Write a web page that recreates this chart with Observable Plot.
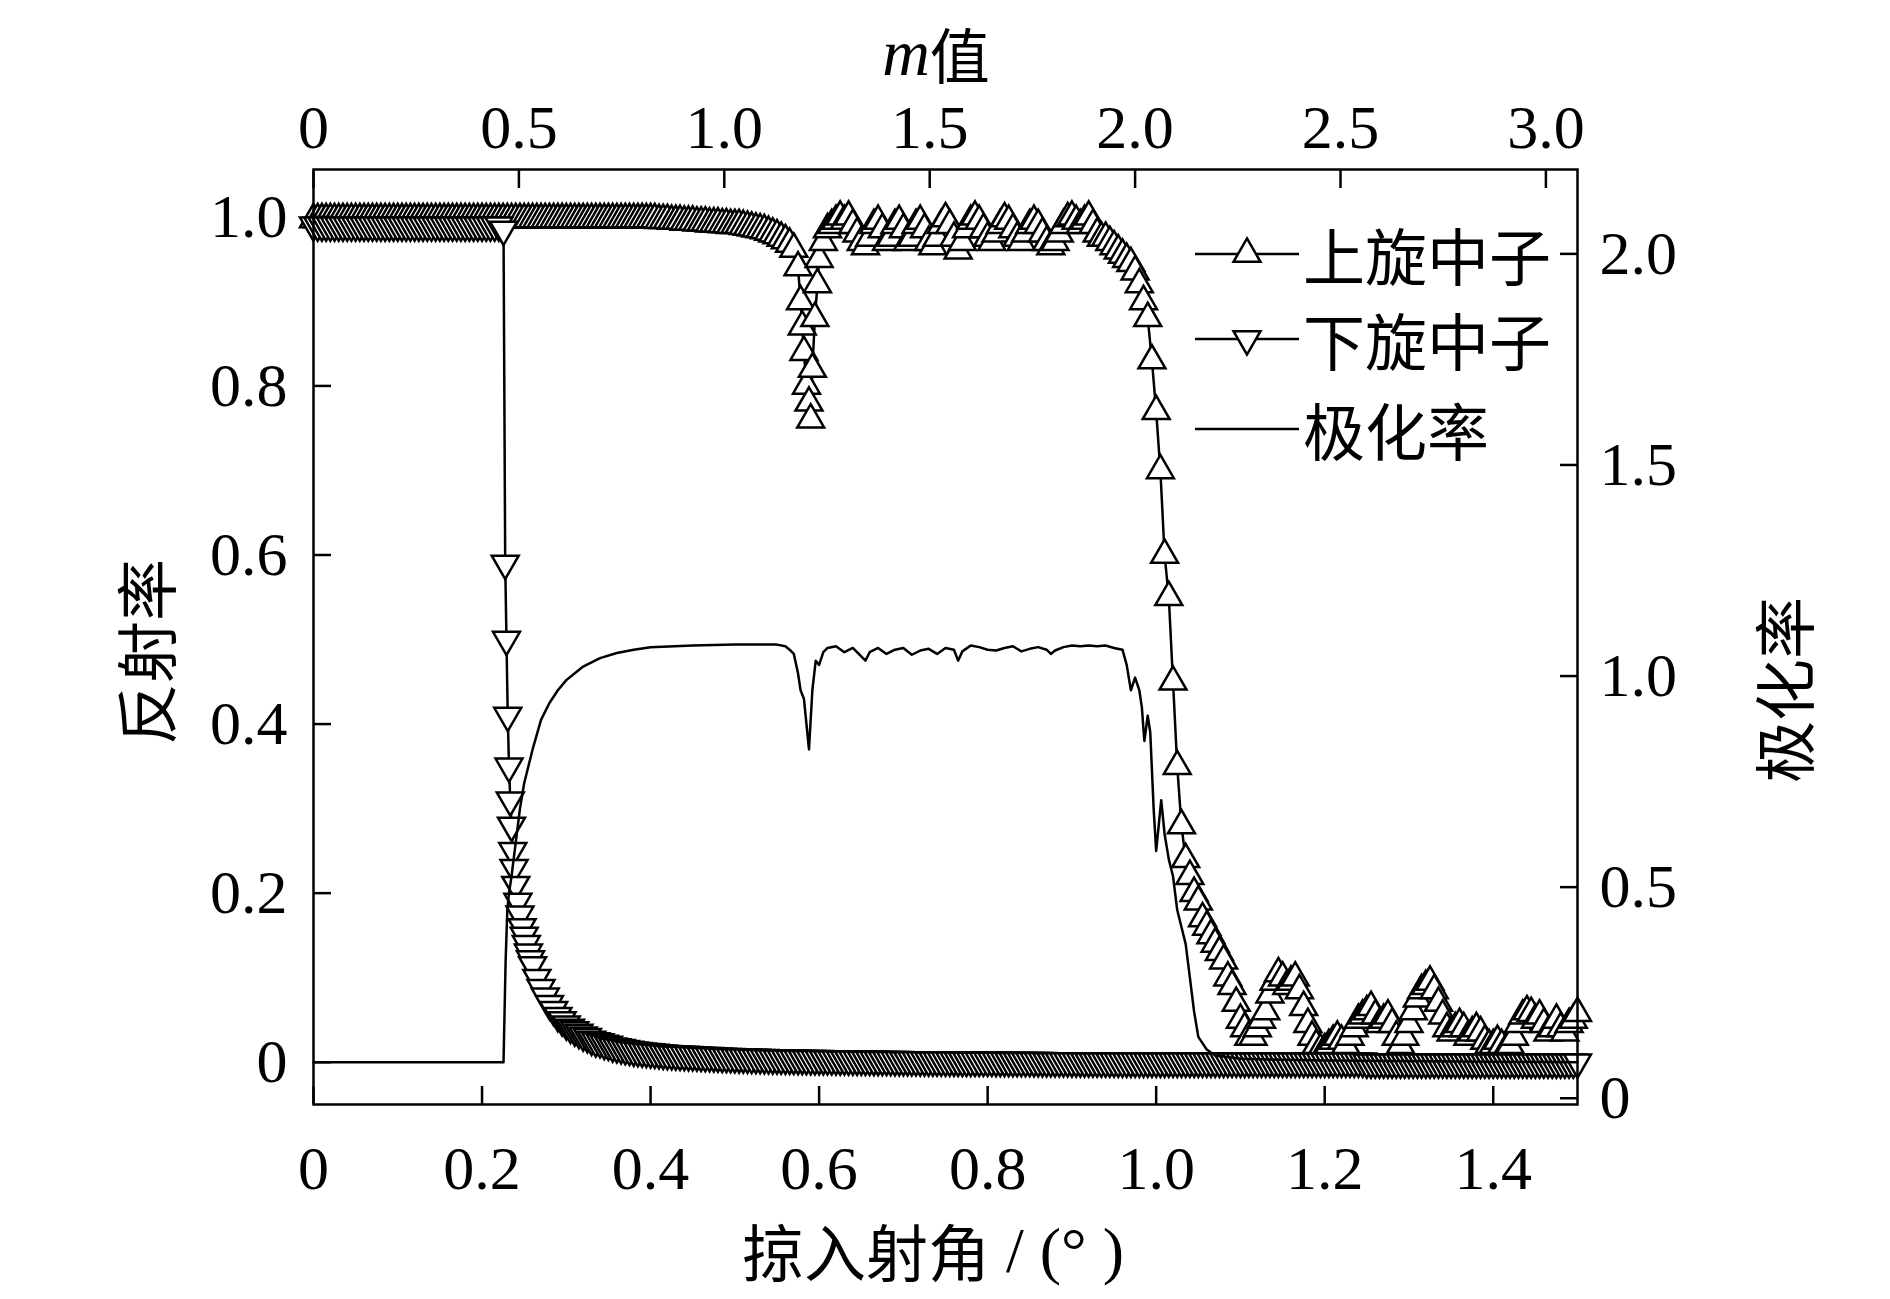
<!DOCTYPE html>
<html><head><meta charset="utf-8">
<script src="https://cdn.jsdelivr.net/npm/d3@7"></script>
<script src="https://cdn.jsdelivr.net/npm/@observablehq/plot@0.6"></script>
<style>body{margin:0;background:#fff}</style>
</head><body><div id="chart"></div>
<script>
// Up-spin reflectivity [angle (deg), R]
const upSpin = [
[0,.997],[.005,.997],[.01,.997],[.015,.997],[.02,.997],[.025,.997],[.03,.997],[.035,.997],[.04,.997],[.045,.997],
[.05,.997],[.055,.997],[.06,.997],[.065,.997],[.07,.997],[.075,.997],[.08,.997],[.085,.997],[.09,.997],[.095,.997],
[.1,.997],[.105,.997],[.11,.997],[.115,.997],[.12,.997],[.125,.997],[.13,.997],[.135,.997],[.14,.997],[.145,.997],
[.15,.997],[.155,.997],[.16,.997],[.165,.997],[.17,.997],[.175,.997],[.18,.997],[.185,.997],[.19,.997],[.195,.997],
[.2,.997],[.205,.997],[.21,.997],[.215,.997],[.22,.997],[.225,.997],[.23,.997],[.235,.997],[.24,.997],[.245,.997],
[.25,.997],[.255,.997],[.26,.997],[.265,.997],[.27,.997],[.275,.997],[.28,.997],[.285,.997],[.29,.997],[.295,.997],
[.3,.997],[.305,.997],[.31,.997],[.315,.997],[.32,.997],[.325,.997],[.33,.997],[.335,.997],[.34,.997],[.345,.997],
[.35,.997],[.355,.997],[.36,.997],[.365,.997],[.37,.997],[.375,.997],[.38,.997],[.385,.997],[.39,.997],[.395,.997],
[.4,.997],[.405,.997],[.41,.996],[.415,.996],[.42,.996],[.425,.995],[.43,.995],[.435,.995],[.44,.994],[.445,.994],
[.45,.994],[.455,.993],[.46,.993],[.465,.993],[.47,.992],[.475,.992],[.48,.992],[.485,.991],[.49,.991],[.495,.99],
[.5,.99],[.505,.99],[.51,.989],[.515,.988],[.52,.987],[.525,.986],[.53,.985],[.535,.984],[.54,.982],[.545,.98],
[.55,.978],[.555,.975],[.56,.972],[.565,.968],[.57,.962],[.575,.94],[.578,.9],[.58,.87],[.582,.84],[.585,.8],
[.588,.78],[.59,.76],[.592,.82],[.595,.88],[.598,.92],[.6,.95],[.605,.97],[.61,.985],[.615,.99],[.62,.995],
[.625,1],[.63,.995],[.635,1],[.64,.99],[.645,.98],[.65,.97],[.655,.965],[.66,.975],[.665,.99],[.67,.995],
[.675,.985],[.68,.97],[.685,.975],[.69,.99],[.695,.995],[.7,.985],[.705,.97],[.71,.975],[.715,.99],[.72,.995],
[.725,.985],[.73,.97],[.735,.965],[.74,.975],[.745,.99],[.75,.998],[.755,.99],[.76,.975],[.765,.96],[.77,.97],
[.775,.985],[.78,.995],[.785,1],[.79,.995],[.795,.985],[.8,.975],[.805,.97],[.81,.98],[.815,.99],[.82,.998],
[.825,.995],[.83,.985],[.835,.975],[.84,.97],[.845,.98],[.85,.99],[.855,.995],[.86,.99],[.865,.98],[.87,.97],
[.875,.965],[.88,.97],[.885,.98],[.89,.99],[.895,.998],[.9,1],[.905,.995],[.91,.99],[.915,.995],[.92,1],
[.925,.99],[.93,.98],[.935,.975],[.94,.975],[.945,.97],[.95,.965],[.955,.96],[.96,.955],[.965,.95],[.97,.945],
[.975,.935],[.98,.92],[.985,.9],[.99,.88],[.995,.83],[1,.77],[1.005,.7],[1.01,.6],[1.015,.55],[1.02,.45],
[1.025,.35],[1.03,.28],[1.035,.24],[1.04,.22],[1.045,.2],[1.05,.19],[1.055,.17],[1.06,.16],[1.065,.15],[1.07,.14],
[1.075,.13],[1.08,.12],[1.085,.1],[1.09,.09],[1.095,.07],[1.1,.05],[1.105,.04],[1.11,.03],[1.115,.03],[1.12,.04],
[1.125,.05],[1.13,.06],[1.135,.08],[1.14,.095],[1.145,.105],[1.15,.1],[1.155,.09],[1.16,.095],[1.165,.1],[1.17,.085],
[1.175,.065],[1.18,.045],[1.185,.03],[1.19,.02],[1.195,.015],[1.2,.015],[1.205,.02],[1.21,.025],[1.215,.03],[1.22,.025],
[1.225,.02],[1.23,.03],[1.235,.04],[1.24,.05],[1.245,.055],[1.25,.06],[1.255,.065],[1.26,.055],[1.265,.045],[1.27,.05],
[1.275,.055],[1.28,.045],[1.285,.03],[1.29,.02],[1.295,.03],[1.3,.045],[1.305,.06],[1.31,.075],[1.315,.085],[1.32,.09],
[1.325,.095],[1.33,.085],[1.335,.07],[1.34,.055],[1.345,.04],[1.35,.035],[1.355,.04],[1.36,.045],[1.365,.04],[1.37,.03],
[1.375,.035],[1.38,.04],[1.385,.035],[1.39,.025],[1.395,.02],[1.4,.02],[1.405,.025],[1.41,.02],[1.415,.015],[1.42,.02],
[1.425,.03],[1.43,.045],[1.435,.055],[1.44,.06],[1.445,.058],[1.45,.05],[1.455,.055],[1.46,.045],[1.465,.035],[1.47,.04],
[1.475,.05],[1.48,.04],[1.485,.035],[1.49,.045],[1.495,.05],[1.5,.058]
];
// Down-spin reflectivity [angle (deg), R]
const downSpin = [
[0,.99],[.005,.99],[.01,.99],[.015,.99],[.02,.99],[.025,.99],[.03,.99],[.035,.99],[.04,.99],[.045,.99],
[.05,.99],[.055,.99],[.06,.99],[.065,.99],[.07,.99],[.075,.99],[.08,.99],[.085,.99],[.09,.99],[.095,.99],
[.1,.99],[.105,.99],[.11,.99],[.115,.99],[.12,.99],[.125,.99],[.13,.99],[.135,.99],[.14,.99],[.145,.99],
[.15,.99],[.155,.99],[.16,.99],[.165,.99],[.17,.99],[.175,.99],[.18,.99],[.185,.99],[.19,.99],[.195,.99],
[.2,.99],[.205,.99],[.21,.99],[.215,.99],[.22,.99],[.2255,.985],[.2275,.59],[.229,.5],[.2305,.41],[.232,.35],
[.2335,.31],[.235,.28],[.2365,.25],[.238,.23],[.24,.21],[.2425,.19],[.245,.175],[.2475,.16],[.25,.15],[.2525,.14],
[.255,.13],[.2575,.122],[.26,.115],[.265,.1],[.27,.088],[.275,.078],[.28,.069],[.285,.062],[.29,.055],[.295,.05],
[.3,.045],[.305,.041],[.31,.038],[.315,.035],[.32,.032],[.325,.03],[.33,.027],[.335,.025],[.34,.024],[.345,.022],
[.35,.021],[.355,.019],[.36,.018],[.365,.017],[.37,.016],[.375,.015],[.38,.014],[.385,.0135],[.39,.013],[.395,.0125],
[.4,.012],[.405,.0115],[.41,.011],[.415,.0105],[.42,.01],[.425,.0098],[.43,.0095],[.435,.0092],[.44,.009],[.445,.0087],
[.45,.0085],[.455,.0082],[.46,.008],[.465,.0077],[.47,.0075],[.475,.0072],[.48,.007],[.485,.0068],[.49,.0066],[.495,.0064],
[.5,.0062],[.505,.006],[.51,.006],[.515,.0058],[.52,.0056],[.525,.0055],[.53,.0054],[.535,.0052],[.54,.005],[.545,.0049],
[.55,.0048],[.555,.0047],[.56,.0046],[.565,.0045],[.57,.0044],[.575,.0043],[.58,.0042],[.585,.0041],[.59,.004],[.595,.004],
[.6,.004],[.605,.0039],[.61,.0038],[.615,.0038],[.62,.0037],[.625,.0036],[.63,.0036],[.635,.0035],[.64,.0034],[.645,.0034],
[.65,.0033],[.655,.0032],[.66,.0032],[.665,.0031],[.67,.003],[.675,.003],[.68,.003],[.685,.0029],[.69,.0028],[.695,.0028],
[.7,.0027],[.705,.0027],[.71,.0026],[.715,.0026],[.72,.0025],[.725,.0025],[.73,.0024],[.735,.0024],[.74,.0023],[.745,.0023],
[.75,.0022],[.755,.0022],[.76,.0022],[.765,.0021],[.77,.0021],[.775,.0021],[.78,.002],[.785,.002],[.79,.002],[.795,.002],
[.8,.002],[.805,.002],[.81,.0019],[.815,.0019],[.82,.0019],[.825,.0018],[.83,.0018],[.835,.0018],[.84,.0017],[.845,.0017],
[.85,.0017],[.855,.0016],[.86,.0016],[.865,.0016],[.87,.0015],[.875,.0015],[.88,.0015],[.885,.0014],[.89,.0014],[.895,.0014],
[.9,.0013],[.905,.0013],[.91,.0013],[.915,.0012],[.92,.0012],[.925,.0012],[.93,.0012],[.935,.0011],[.94,.0011],[.945,.0011],
[.95,.0011],[.955,.001],[.96,.001],[.965,.001],[.97,.001],[.975,.001],[.98,.001],[.985,.001],[.99,.001],[.995,.001],
[1,.001],[1.005,.001],[1.01,.001],[1.015,.001],[1.02,.001],[1.025,.001],[1.03,.001],[1.035,.001],[1.04,.001],[1.045,.001],
[1.05,.001],[1.055,.001],[1.06,.001],[1.065,.001],[1.07,.001],[1.075,.001],[1.08,.001],[1.085,.001],[1.09,.001],[1.095,.001],
[1.1,.001],[1.105,.001],[1.11,.001],[1.115,.001],[1.12,.001],[1.125,.001],[1.13,.001],[1.135,.001],[1.14,.001],[1.145,.001],
[1.15,.001],[1.155,.001],[1.16,.001],[1.165,.001],[1.17,.001],[1.175,.001],[1.18,.001],[1.185,.001],[1.19,.001],[1.195,.001],
[1.2,.001],[1.205,.001],[1.21,.001],[1.215,.001],[1.22,.001],[1.225,.001],[1.23,.001],[1.235,.001],[1.24,.001],[1.245,.001],
[1.25,0],[1.255,0],[1.26,0],[1.265,0],[1.27,0],[1.275,0],[1.28,0],[1.285,0],[1.29,0],[1.295,0],
[1.3,0],[1.305,0],[1.31,0],[1.315,0],[1.32,0],[1.325,0],[1.33,0],[1.335,0],[1.34,0],[1.345,0],
[1.35,0],[1.355,0],[1.36,0],[1.365,0],[1.37,0],[1.375,0],[1.38,0],[1.385,0],[1.39,0],[1.395,0],
[1.4,0],[1.405,0],[1.41,0],[1.415,0],[1.42,0],[1.425,0],[1.43,0],[1.435,0],[1.44,0],[1.445,0],
[1.45,0],[1.455,0],[1.46,0],[1.465,0],[1.47,0],[1.475,0],[1.48,0],[1.485,0],[1.49,0],[1.495,0],[1.5,0]
];
// Polarization curve as drawn against the left axis [angle, value]
const polarization = [
[0,0],[.1,0],[.2,0],[.2255,0],[.228,.12],[.23,.18],[.232,.2],[.235,.22],[.24,.26],[.245,.3],[.25,.33],
[.26,.37],[.27,.405],[.28,.425],[.29,.44],[.3,.452],[.32,.468],[.34,.478],[.36,.484],[.38,.488],[.4,.491],
[.45,.493],[.5,.494],[.55,.494],[.56,.492],[.565,.488],[.57,.483],[.575,.46],[.578,.44],[.582,.43],[.585,.4],
[.588,.37],[.592,.44],[.596,.475],[.6,.47],[.605,.485],[.61,.49],[.62,.492],[.63,.485],[.64,.49],[.65,.48],
[.655,.475],[.66,.485],[.67,.49],[.68,.483],[.69,.488],[.7,.49],[.71,.482],[.72,.487],[.73,.489],[.74,.483],
[.75,.49],[.76,.488],[.765,.475],[.77,.486],[.78,.493],[.79,.491],[.8,.488],[.81,.487],[.82,.49],[.83,.492],
[.84,.486],[.85,.489],[.86,.491],[.87,.488],[.875,.483],[.88,.487],[.89,.491],[.9,.493],[.91,.492],[.92,.493],
[.93,.492],[.94,.493],[.95,.49],[.96,.488],[.965,.47],[.97,.44],[.975,.455],[.98,.44],[.983,.42],[.986,.38],
[.99,.41],[.993,.39],[.997,.3],[1,.25],[1.003,.28],[1.006,.31],[1.01,.27],[1.015,.24],[1.02,.22],[1.025,.18],
[1.03,.16],[1.035,.14],[1.04,.1],[1.045,.06],[1.05,.03],[1.06,.015],[1.07,.008],[1.1,.004],[1.2,.002],[1.5,0]
];
const xTicks = [0,0.2,0.4,0.6,0.8,1.0,1.2,1.4];
const xTickLabels = ["0","0.2","0.4","0.6","0.8","1.0","1.2","1.4"];
const yTicks = [0,0.2,0.4,0.6,0.8,1.0];
const yTickLabels = ["0","0.2","0.4","0.6","0.8","1.0"];
const mTicks = [0,0.5,1.0,1.5,2.0,2.5,3.0];
const mTickLabels = ["0","0.5","1.0","1.5","2.0","2.5","3.0"];
const polTicks = [0,0.5,1.0,1.5,2.0];
const polTickLabels = ["0","0.5","1.0","1.5","2.0"];
const degPerM = 0.4875;           // m value -> grazing angle
const polOffset = -0.0426, polScale = 0.4994; // right axis -> left axis units
const legendLabels = ["上旋中子","下旋中子","极化率"];

const F = "'Liberation Serif','Times New Roman',serif";
const C = "'Noto Sans CJK SC',sans-serif";
const up = upSpin.map(([x,y])=>({x,y}));
const dn = downSpin.map(([x,y])=>({x,y}));
const pol = polarization.map(([x,y])=>({x,y}));

const plot = Plot.plot({
  width:1890, height:1299,
  marginLeft:313, marginRight:313, marginTop:169, marginBottom:195,
  style:{fontFamily:F, fontSize:"62px", background:"#fff", color:"#000"},
  x:{domain:[0,1.5]},
  y:{domain:[-0.05,1.056]},
  marks:[
    Plot.line(up,{x:"x",y:"y",stroke:"#000",strokeWidth:2.5}),
    Plot.line(dn,{x:"x",y:"y",stroke:"#000",strokeWidth:2.5}),
    Plot.dot(up,{x:"x",y:"y",symbol:"triangle",r:10,stroke:"#000",fill:"#fff",strokeWidth:2.5}),
    Plot.dot(dn,{x:"x",y:"y",symbol:"triangle",rotate:180,r:10,stroke:"#000",fill:"#fff",strokeWidth:2.5}),
    Plot.line(pol,{x:"x",y:"y",stroke:"#000",strokeWidth:2.5}),
    Plot.frame({stroke:"#000",strokeWidth:2.5}),
    Plot.axisX({anchor:"bottom",ticks:xTicks,tickSize:-18,tickFormat:()=>"",strokeWidth:2.5,label:null}),
    Plot.axisX({anchor:"bottom",ticks:xTicks,tickSize:0,tickPadding:40,tickFormat:(d,i)=>xTickLabels[i],fontSize:62,fontFamily:F,label:null}),
    Plot.axisX({anchor:"top",ticks:mTicks.map(m=>m*degPerM),tickSize:-18,tickFormat:()=>"",strokeWidth:2.5,label:null}),
    Plot.axisX({anchor:"top",ticks:mTicks.map(m=>m*degPerM),tickSize:0,tickPadding:22,tickFormat:(d,i)=>mTickLabels[i],fontSize:62,fontFamily:F,label:null}),
    Plot.axisY({anchor:"left",ticks:yTicks,tickSize:-18,tickFormat:()=>"",strokeWidth:2.5,label:null}),
    Plot.axisY({anchor:"left",ticks:yTicks,tickSize:0,tickPadding:26,tickFormat:(d,i)=>yTickLabels[i],fontSize:62,fontFamily:F,label:null}),
    Plot.axisY({anchor:"right",ticks:polTicks.map(v=>polOffset+v*polScale),tickSize:-18,tickFormat:()=>"",strokeWidth:2.5,label:null}),
    Plot.axisY({anchor:"right",ticks:polTicks.map(v=>polOffset+v*polScale),tickSize:0,tickPadding:22,tickFormat:(d,i)=>polTickLabels[i],fontSize:62,fontFamily:F,label:null})
  ]
});
document.getElementById("chart").appendChild(plot);

const svg = d3.select(plot);
const T = (x,y,rot)=>svg.append("text").attr("transform",`translate(${x},${y})${rot?` rotate(${rot})`:""}`)
  .attr("text-anchor","middle").attr("dominant-baseline","central").attr("fill","#000");
const bt = T(933,1250); bt.append("tspan").attr("font-family",C).attr("font-size",62).text("掠入射角");
bt.append("tspan").attr("font-family",F).attr("font-size",64).text(" / (° )");
T(144,652,-90).attr("font-family",C).attr("font-size",62).text("反射率");
T(1782,690,-90).attr("font-family",C).attr("font-size",62).text("极化率");
const tt = T(936,52); tt.append("tspan").attr("font-family",F).attr("font-style","italic").attr("font-size",66).text("m");
tt.append("tspan").attr("font-family",C).attr("font-size",60).text("值");

const ly = [254,339,429];
legendLabels.forEach((lab,i)=>{
  svg.append("line").attr("x1",1195).attr("x2",1299).attr("y1",ly[i]).attr("y2",ly[i]).attr("stroke","#000").attr("stroke-width",2.5);
  if(i<2){
    svg.append("path").attr("d",d3.symbol(d3.symbolTriangle,Math.PI*100)())
      .attr("transform",`translate(1247,${ly[i]})${i===1?" rotate(180)":""}`)
      .attr("fill","#fff").attr("stroke","#000").attr("stroke-width",2.5);
  }
  svg.append("text").attr("x",1303).attr("y",ly[i]).attr("dominant-baseline","central").attr("text-anchor","start")
    .attr("font-family",C).attr("font-size",62).attr("fill","#000").text(lab);
});
</script></body></html>
